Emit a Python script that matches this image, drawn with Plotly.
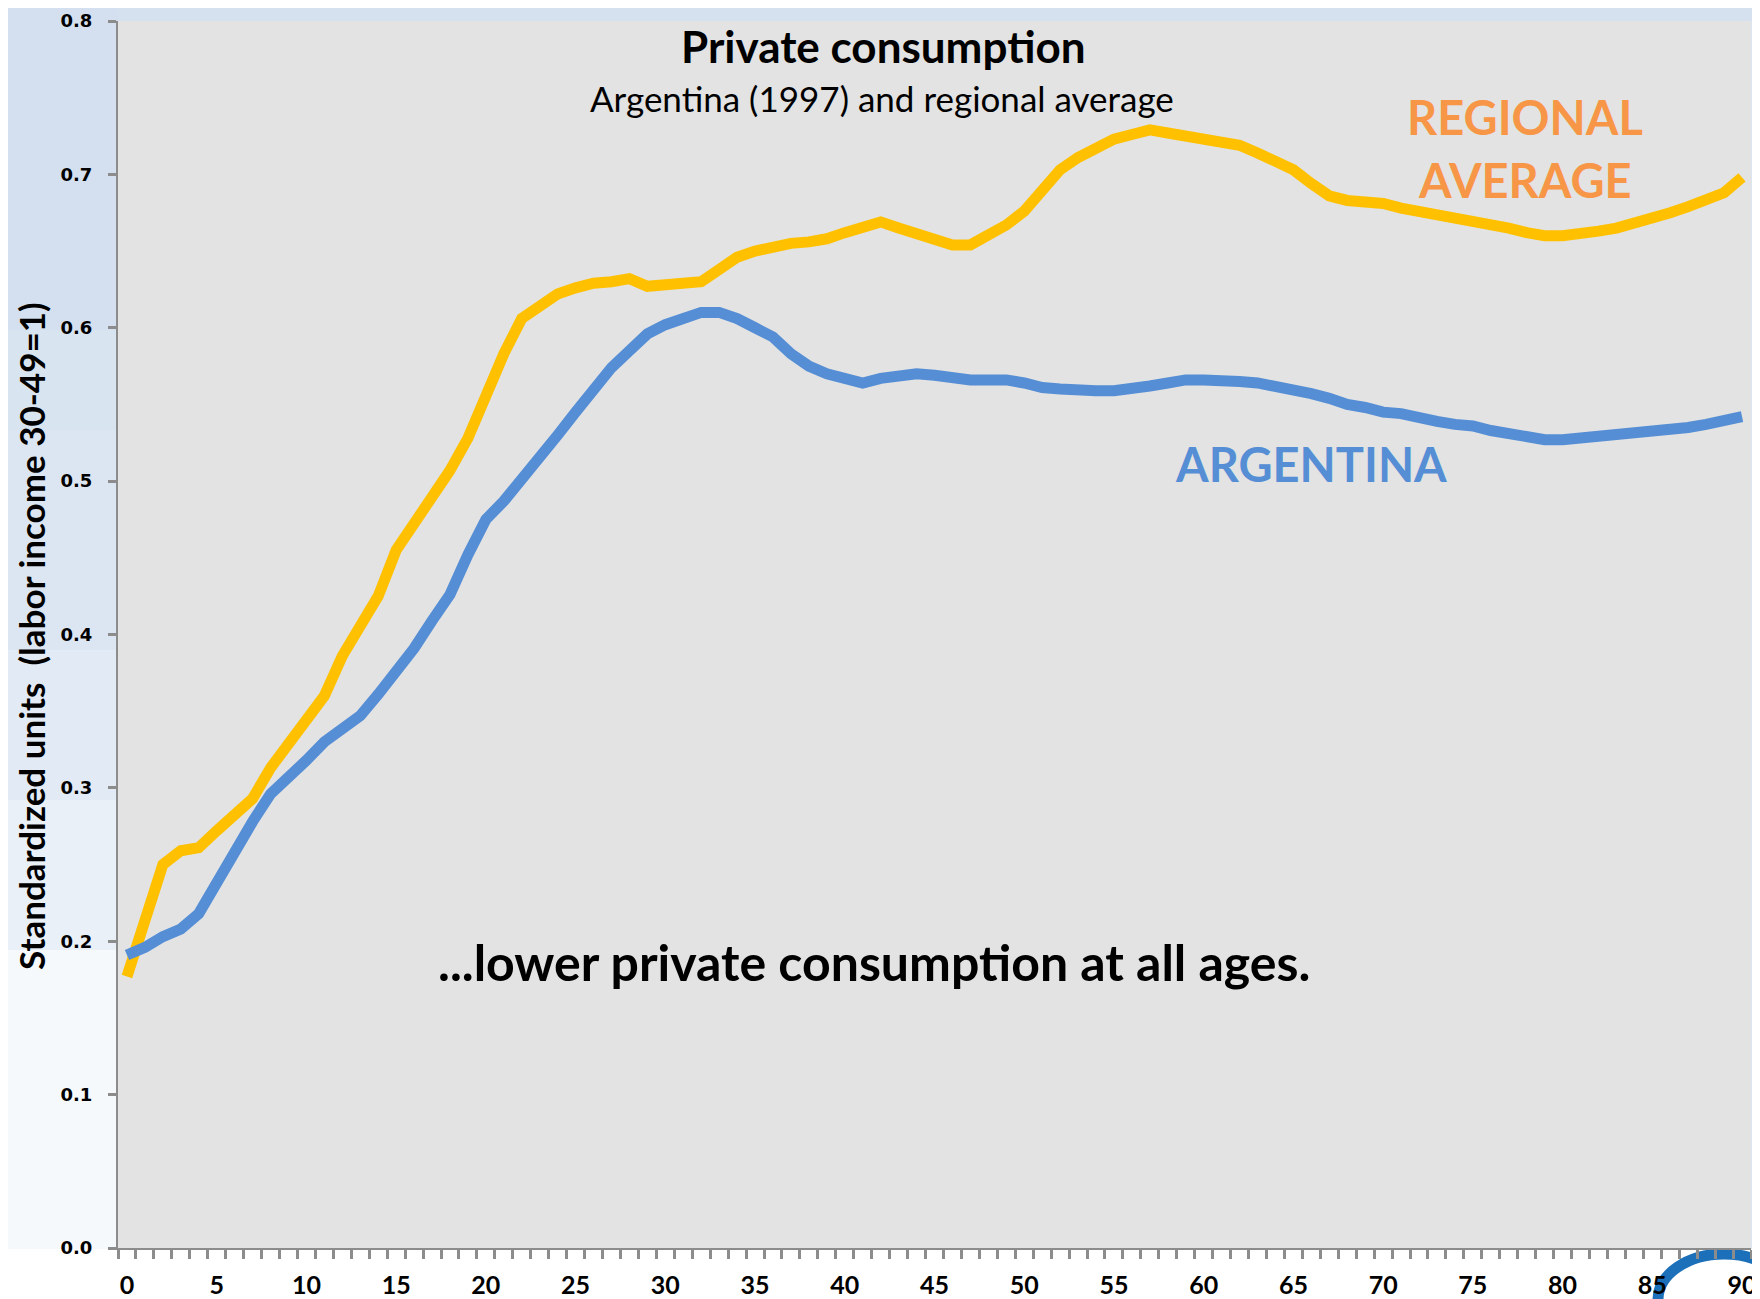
import plotly.graph_objects as go

# ---------------- data ----------------
ages = list(range(0, 91))

regional_average = [
    0.177, 0.213, 0.250, 0.259, 0.261, 0.272, 0.283, 0.293, 0.313, 0.329,
    0.343, 0.360, 0.386, 0.405, 0.425, 0.455, 0.472, 0.487, 0.507, 0.528,
    0.556, 0.583, 0.606, 0.615, 0.622, 0.626, 0.629, 0.630, 0.632, 0.627,
    0.628, 0.629, 0.630, 0.638, 0.646, 0.650, 0.653, 0.655, 0.656, 0.658,
    0.662, 0.666, 0.669, 0.665, 0.661, 0.657, 0.654, 0.654, 0.660, 0.667,
    0.676, 0.690, 0.703, 0.711, 0.718, 0.723, 0.726, 0.729, 0.727, 0.725,
    0.723, 0.721, 0.719, 0.714, 0.709, 0.703, 0.694, 0.686, 0.683, 0.682,
    0.681, 0.678, 0.676, 0.673, 0.671, 0.669, 0.667, 0.665, 0.662, 0.660,
    0.660, 0.661, 0.663, 0.665, 0.668, 0.671, 0.675, 0.679, 0.683, 0.688,
    0.698,
]

argentina = [
    0.191, 0.196, 0.203, 0.208, 0.218, 0.239, 0.259, 0.278, 0.296, 0.306,
    0.318, 0.330, 0.339, 0.347, 0.361, 0.376, 0.391, 0.409, 0.426, 0.452,
    0.475, 0.487, 0.501, 0.514, 0.530, 0.545, 0.561, 0.574, 0.585, 0.596,
    0.602, 0.606, 0.610, 0.610, 0.606, 0.600, 0.594, 0.583, 0.575, 0.570,
    0.567, 0.564, 0.567, 0.569, 0.570, 0.569, 0.567, 0.566, 0.566, 0.566,
    0.564, 0.561, 0.560, 0.559, 0.559, 0.559, 0.560, 0.562, 0.564, 0.566,
    0.566, 0.566, 0.565, 0.564, 0.562, 0.560, 0.557, 0.554, 0.550, 0.548,
    0.545, 0.544, 0.541, 0.539, 0.537, 0.536, 0.533, 0.531, 0.528, 0.527,
    0.527, 0.528, 0.530, 0.531, 0.532, 0.533, 0.534, 0.535, 0.537, 0.539,
    0.542,
]

x_tick_vals = list(range(0, 91, 5))
x_tick_text = [str(v) for v in x_tick_vals]
y_tick_vals = [0.0, 0.1, 0.2, 0.3, 0.4, 0.5, 0.6, 0.7, 0.8]
y_tick_text = ["0.0", "0.1", "0.2", "0.3", "0.4", "0.5", "0.6", "0.7", "0.8"]

title_text = "Private consumption"
subtitle_text = "Argentina (1997) and regional average"
y_title = "Standardized units  (labor income 30-49=1)"
note_text = "...lower private consumption at all ages."

# ---------------- layout geometry (page pixels; body has an 8px margin) ----------------
OFF = 8
PAGE_W, PAGE_H = 1760, 1299
W, H = PAGE_W - OFF, PAGE_H - OFF
PL, PR, PT, PB = 118, 1751, 21, 1248  # plot area in page pixels


def px(x):
    return (x - PL) / (PR - PL)


def py(y):
    return (PB - y) / (PB - PT)


YELLOW = "#FFC000"
BLUE = "#558ED5"
ORANGE = "#F79646"
AXIS = "#8C8C8C"

fig = go.Figure()
fig.add_trace(go.Scatter(x=ages, y=regional_average, mode="lines",
                         line=dict(color=YELLOW, width=11), name="Regional average",
                         hoverinfo="x+y"))
fig.add_trace(go.Scatter(x=ages, y=argentina, mode="lines",
                         line=dict(color=BLUE, width=11), name="Argentina",
                         hoverinfo="x+y"))

shapes = []
bands = [
    (0, 330, "#D4E0EF"), (330, 430, "#D9E4F1"), (430, 650, "#DCE6F2"),
    (650, 800, "#E2EAF5"), (800, 950, "#EAF0F8"), (950, 1260, "#F6F9FC"),
]
for y0, y1, c in bands:
    shapes.append(dict(type="rect", xref="paper", yref="paper", layer="below",
                       x0=px(OFF), x1=px(PL), y0=py(y1), y1=py(y0),
                       fillcolor=c, line=dict(width=0)))
shapes.append(dict(type="rect", xref="paper", yref="paper", layer="below",
                   x0=px(PL), x1=px(PAGE_W), y0=py(PT), y1=py(OFF),
                   fillcolor="#D5E1EF", line=dict(width=0)))
shapes.append(dict(type="rect", xref="paper", yref="paper", layer="below",
                   x0=px(PR), x1=px(PAGE_W), y0=py(PB), y1=py(PT),
                   fillcolor="#DCE6F2", line=dict(width=0)))
shapes.append(dict(type="rect", xref="paper", yref="paper", layer="below",
                   x0=px(OFF), x1=px(PAGE_W), y0=py(PAGE_H), y1=py(PB + 1),
                   fillcolor="#FFFFFF", line=dict(width=0)))
# partial logo ring in the bottom-right corner
shapes.append(dict(type="circle", xref="paper", yref="paper", layer="below",
                   x0=px(1658), x1=px(1790), y0=py(1345), y1=py(1254),
                   line=dict(color="#1B70B9", width=11), fillcolor="rgba(0,0,0,0)"))

annotations = [
    dict(text=f"<b>{title_text}</b>", x=px(883), y=py(46), xref="paper", yref="paper",
         showarrow=False, font=dict(family="Lato", size=44, color="#000000"),
         xanchor="center", yanchor="middle"),
    dict(text=subtitle_text, x=px(882), y=py(98), xref="paper", yref="paper",
         showarrow=False, font=dict(family="Lato", size=35, color="#000000"),
         xanchor="center", yanchor="middle"),
    dict(text="<b>REGIONAL</b>", x=px(1525), y=py(117), xref="paper", yref="paper",
         showarrow=False, font=dict(family="Lato", size=47, color=ORANGE),
         xanchor="center", yanchor="middle"),
    dict(text="<b>AVERAGE</b>", x=px(1525), y=py(180), xref="paper", yref="paper",
         showarrow=False, font=dict(family="Lato", size=47, color=ORANGE),
         xanchor="center", yanchor="middle"),
    dict(text="<b>ARGENTINA</b>", x=px(1311), y=py(464), xref="paper", yref="paper",
         showarrow=False, font=dict(family="Lato", size=47, color=BLUE),
         xanchor="center", yanchor="middle"),
    dict(text=f"<b>{note_text}</b>", x=px(874), y=py(962), xref="paper", yref="paper",
         showarrow=False, font=dict(family="Lato", size=50, color="#000000"),
         xanchor="center", yanchor="middle"),
    dict(text=f"<b>{y_title}</b>", x=px(31), y=py(636), xref="paper", yref="paper",
         showarrow=False, textangle=-90, font=dict(family="Lato", size=35, color="#000000"),
         xanchor="center", yanchor="middle"),
]

fig.update_layout(
    template="none",
    width=W, height=H,
    margin=dict(l=PL - OFF, r=W - (PR - OFF), t=PT - OFF, b=H - (PB - OFF), pad=0,
                autoexpand=False),
    paper_bgcolor="#DCE6F2",
    plot_bgcolor="#E3E3E3",
    showlegend=False,
    shapes=shapes,
    annotations=annotations,
    xaxis=dict(
        range=[-0.5, 90.5], tickmode="array", tickvals=x_tick_vals, ticktext=x_tick_text,
        automargin=False,
        ticks="", showgrid=False, zeroline=False, showline=True, linecolor=AXIS, linewidth=2,
        tickfont=dict(family="Lato", size=25, color="#000000", weight="bold"),
        ticklabelstandoff=14,
        minor=dict(ticks="outside", tick0=-0.5, dtick=1, ticklen=9, tickwidth=3,
                   tickcolor=AXIS, showgrid=False),
    ),
    yaxis=dict(
        range=[0, 0.8], tickmode="array", tickvals=y_tick_vals, ticktext=y_tick_text,
        automargin=False,
        ticks="outside", ticklen=8, tickwidth=3, tickcolor=AXIS,
        showgrid=False, zeroline=False, showline=True, linecolor=AXIS, linewidth=2,
        tickfont=dict(family="DejaVu Sans", size=18, color="#000000", weight="bold"),
        ticklabelstandoff=12,
    ),
)

fig.write_html("out.html")
